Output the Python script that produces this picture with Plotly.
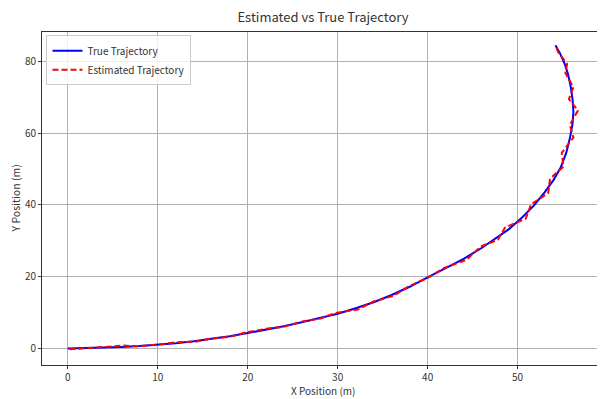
import plotly.graph_objects as go

# True trajectory (m)
true_x = [0, 2, 4, 6, 8, 10, 12, 14, 16, 18, 20, 22, 24, 26, 28, 30, 32, 34, 36, 38,
          40, 42, 44, 46, 47.5, 49, 50.5, 51.8, 53, 54, 54.8, 55.4, 55.8, 56.1, 56.2,
          56.1, 55.9, 55.6, 55.2, 54.7, 54.2]
true_y = [0, 0.1, 0.25, 0.45, 0.7, 1.0, 1.45, 2.0, 2.6, 3.4, 4.3, 5.2, 6.2, 7.3, 8.4, 9.7,
          11.2, 12.9, 14.9, 17.2, 19.8, 22.3, 25.0, 28.0, 30.5, 33.2, 36.5, 39.8, 43.5,
          47.0, 50.5, 54.5, 58.5, 62.5, 66.0, 69.5, 73.0, 76.5, 79.5, 82.3, 84.5]

# Estimated trajectory (m)
est_x = [0.2, 2.1, 3.9, 6.2, 7.8, 10.1, 11.9, 14.2, 16.0, 18.1, 19.8, 22.3, 23.9, 26.2,
         28.0, 29.8, 32.3, 34.0, 36.2, 37.9, 40.1, 41.8, 44.3, 45.9, 47.8, 48.6, 50.9,
         51.5, 53.4, 53.6, 55.1, 54.9, 56.2, 55.8, 56.7, 55.7, 56.2, 55.3, 55.5, 54.5, 54.2]
est_y = [-0.2, 0.2, 0.4, 0.8, 0.6, 1.1, 1.7, 1.9, 2.8, 3.3, 4.5, 5.6, 6.0, 7.6, 8.3, 9.9,
         10.9, 13.1, 14.7, 17.3, 19.8, 22.4, 24.7, 28.4, 30.3, 33.7, 36.2, 40.2, 43.3,
         47.3, 50.7, 54.5, 58.8, 62.3, 66.3, 69.5, 72.8, 76.8, 79.3, 82.6, 84.5]

x_ticks = [0, 10, 20, 30, 40, 50]
y_ticks = [0, 20, 40, 60, 80]

fig = go.Figure()
fig.add_trace(go.Scatter(x=true_x, y=true_y, mode="lines", name="True Trajectory",
                         line=dict(color="#0000ff", width=2)))
fig.add_trace(go.Scatter(x=est_x, y=est_y, mode="lines", name="Estimated Trajectory",
                         line=dict(color="#ff0000", width=2, dash="6px,3px")))

font_family = "Noto Sans CJK KR, Noto Sans, sans-serif"
txt = "#333333"
axis_common = dict(showline=True, mirror=True, linecolor="#333333", linewidth=1,
                   showgrid=True, gridcolor="#b0b0b0", gridwidth=1,
                   ticks="outside", ticklen=3, tickcolor="#333333",
                   zeroline=False, automargin=False,
                   tickfont=dict(size=10, color=txt))

# The page body adds an 8 px offset, so the figure is 8 px smaller than the window.
W, H = 597, 391
fig.update_layout(
    width=W, height=H,
    margin=dict(l=34, r=1, t=24, b=34),
    paper_bgcolor="white", plot_bgcolor="white",
    font=dict(family=font_family, size=11, color=txt),
    title=dict(text="Estimated vs True Trajectory", x=0.5, xref="paper", xanchor="center",
               y=1 - 9 / H, yref="container", yanchor="middle",
               font=dict(size=13, color=txt)),
    xaxis=dict(range=[-2.86, 59.6], tickvals=x_ticks, **axis_common),
    yaxis=dict(range=[-4.6, 88.2], tickvals=y_ticks, **axis_common),
    legend=dict(x=0.008, y=0.99, xanchor="left", yanchor="top",
                bgcolor="rgba(255,255,255,0.8)", bordercolor="#cccccc", borderwidth=1,
                font=dict(size=10), tracegroupgap=0, itemwidth=30),
    showlegend=True,
    annotations=[
        dict(text="X Position (m)", xref="paper", yref="paper", x=0.5, y=0,
             yshift=-34, showarrow=False, xanchor="center", yanchor="bottom",
             borderpad=0, font=dict(size=10, color=txt)),
        dict(text="Y Position (m)", xref="paper", yref="paper", x=0, y=0.5,
             xshift=-27, showarrow=False, textangle=-90, xanchor="center",
             yanchor="middle", borderpad=0, font=dict(size=10.5, color=txt)),
    ],
)

fig.write_html("out.html")
